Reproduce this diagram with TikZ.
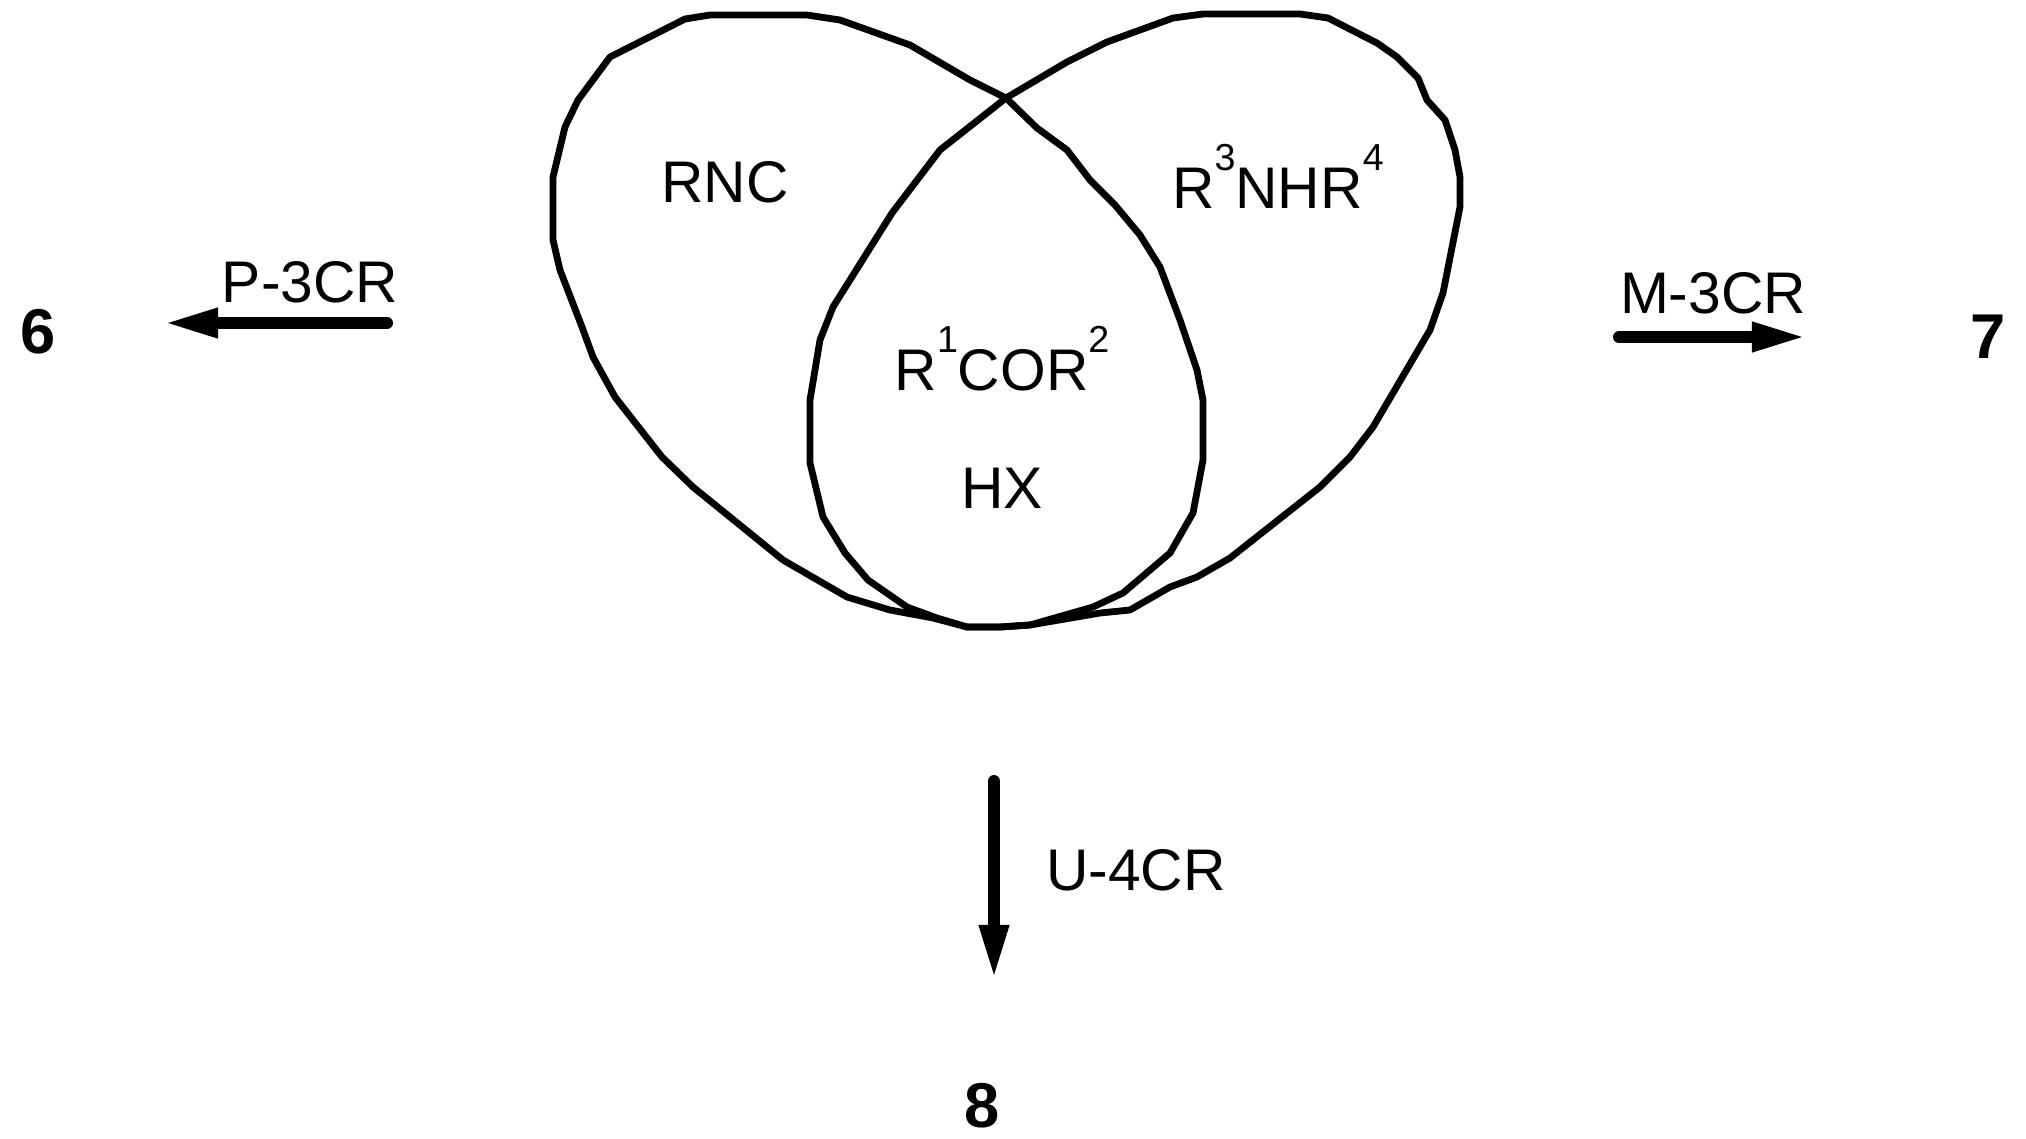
\documentclass[tikz,border=0pt]{standalone}
\usepackage{fontspec}
\setmainfont{Liberation Sans}
\usetikzlibrary{arrows.meta}

\newcommand{\supnum}[1]{\raisebox{10.8pt}{\fontsize{10.7}{11}\selectfont #1}}

\begin{document}
\begin{tikzpicture}[
            x=0.01cm,y=-0.01cm,
            loop/.style={draw,line width=0.068cm,line join=round},
            lab/.style={inner sep=0,anchor=base,font=\fontsize{16.7}{20}\selectfont},
            cmpd/.style={inner sep=0,anchor=base,font=\bfseries\fontsize{18}{20}\selectfont},
            rxn/.style={draw,line width=0.12cm,line cap=round,-{Triangle[length=0.55cm,width=0.27cm]}}
          ]
          \useasboundingbox (0,0) rectangle (2026,1139);

          %left loop
          \draw[loop] (1006,98) -- (970,80) -- (910,45) -- (840,20) -- (807,15) -- (710,15) -- (685,19)
            -- (610,57) -- (578,100) -- (565,127) -- (553,177) -- (553,240) -- (560,270) -- (582,327)
            -- (593,357) -- (615,397) -- (662,457) -- (693,487) -- (783,560) -- (847,597) -- (890,610)
            -- (933,618) -- (967,627) -- (1000,627) -- (1030,625) -- (1093,607) -- (1123,593) -- (1170,553)
            -- (1193,513) -- (1203,460) -- (1203,400) -- (1197,370) -- (1180,320) -- (1160,267)
            -- (1140,235) -- (1115,205) -- (1090,180) -- (1067,150) -- (1037,128) -- cycle;

          %right loop
          \draw[loop] (1006,98) -- (1067,62) -- (1107,42) -- (1173,18) -- (1203,14) -- (1300,14) -- (1328,18)
            -- (1377,43) -- (1397,57) -- (1418,78) -- (1427,100) -- (1445,120) -- (1455,150) -- (1460,177)
            -- (1460,207) -- (1443,293) -- (1430,330) -- (1373,427) -- (1350,457) -- (1320,487) -- (1230,558)
            -- (1197,577) -- (1170,587) -- (1130,610) -- (1100,613) -- (1030,625) -- (1000,627) -- (967,627)
            -- (937,618) -- (907,607) -- (868,580) -- (845,553) -- (823,517) -- (810,463) -- (810,400)
            -- (820,340) -- (833,307) -- (892,213) -- (940,150) -- cycle;

          %reagents
          \node[lab] (rnc) at (725,202) {RNC};
          \node[lab] (amine) at (1278,208) {R\supnum{3}NHR\supnum{4}};
          \node[lab] (carbonyl) at (1002,390) {R\supnum{1}COR\supnum{2}};
          \node[lab] (acid) at (1002,508) {HX};

          %products
          \node[cmpd] (p6) at (38,353) {6};
          \node[cmpd] (p7) at (1988,358) {7};
          \node[cmpd] (p8) at (982,1127) {8};

          %reactions
          \coordinate (ptail) at (387,323);
          \coordinate (ptip) at (163,323);
          \coordinate (mtail) at (1619,337);
          \coordinate (mtip) at (1807,337);
          \coordinate (utail) at (994,781);
          \coordinate (utip) at (994,980);
          \path[rxn] (ptail) -- (ptip);
          \path[rxn] (mtail) -- (mtip);
          \path[rxn] (utail) -- (utip);

          %labels
          \node[lab] (p3cr) at (310,302) {P-3CR};
          \node[lab] (m3cr) at (1713,313) {M-3CR};
          \node[lab] (u4cr) at (1136,890) {U-4CR};

      \end{tikzpicture}
\end{document}
